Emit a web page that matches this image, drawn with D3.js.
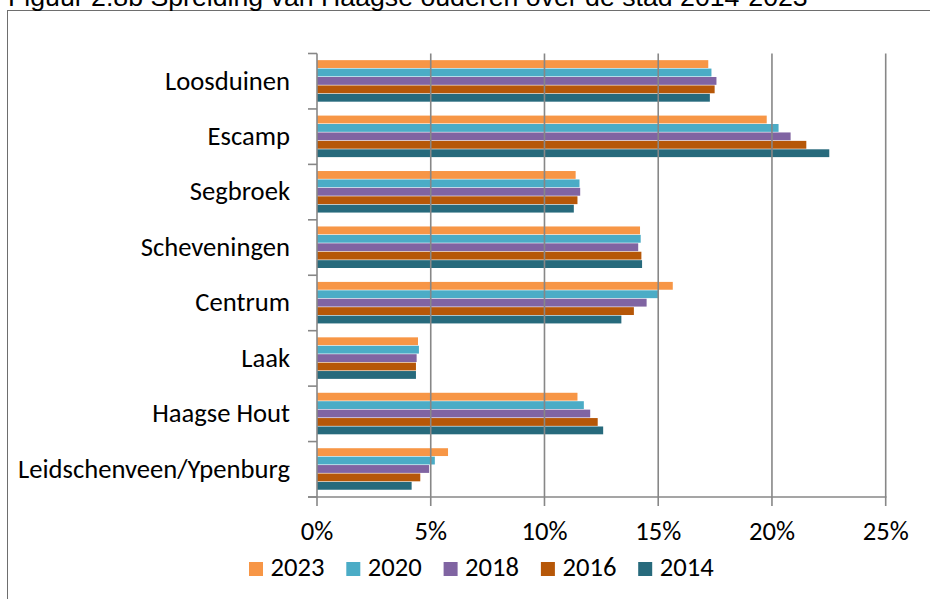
<!DOCTYPE html>
<html><head><meta charset="utf-8">
<script src="https://cdn.jsdelivr.net/npm/d3@7"></script>
<style>body{margin:0;background:#fff;} svg{display:block;}</style>
</head><body>
<svg id="c" width="930" height="599"></svg>
<script>
const title = "Figuur 2.8b  Spreiding van Haagse ouderen over de stad 2014-2023";
const categories = ["Loosduinen","Escamp","Segbroek","Scheveningen","Centrum","Laak","Haagse Hout","Leidschenveen/Ypenburg"];
const years = ["2023","2020","2018","2016","2014"];
const colors = ["#F79646","#4BACC6","#8064A2","#B65708","#276A7C"];
const v2023 = [17.20,19.77,11.37,14.20,15.64,4.44,11.45,5.76];
const v2020 = [17.34,20.29,11.54,14.23,15.03,4.48,11.73,5.18];
const v2018 = [17.56,20.82,11.57,14.12,14.49,4.38,12.01,4.93];
const v2016 = [17.48,21.51,11.45,14.26,13.93,4.35,12.34,4.54];
const v2014 = [17.27,22.52,11.29,14.29,13.38,4.35,12.58,4.16];
const tickValues = [0,5,10,15,20,25];
const tickLabels = ["0%","5%","10%","15%","20%","25%"];

const series = [v2023,v2020,v2018,v2016,v2014];
const svg = d3.select("#c");
const labelFont = "Carlito, Lato, 'Open Sans', sans-serif";

// frame
svg.append("rect").attr("x",7.5).attr("y",10.5).attr("width",1000).attr("height",1000)
  .attr("fill","none").attr("stroke","#6e6e6e").attr("stroke-width",1);

// title (clipped at top like the reference)
const t = svg.append("text").attr("x",8).attr("y",6)
  .attr("font-family","'Liberation Sans', Arial, sans-serif").attr("font-size",100)
  .attr("fill","#000").text(title);
const tw = t.node().getComputedTextLength();
t.attr("font-size", 100*800/tw);

const x = d3.scaleLinear().domain([0,25]).range([317,885.7]);
const y = d3.scaleBand().domain(categories).range([53.5,497]).padding(0);
const bw = y.bandwidth();
const ys = d3.scaleBand().domain(years).range([bw*0.12, bw*0.88]).padding(0);

// bars
const data = [];
categories.forEach((c,i)=>years.forEach((yr,j)=>data.push({c, yr, v: series[j][i], col: colors[j]})));
svg.append("g").selectAll("rect").data(data).join("rect")
  .attr("x", x(0))
  .attr("y", d=>y(d.c)+ys(d.yr))
  .attr("width", d=>x(d.v)-x(0))
  .attr("height", ys.bandwidth()-0.6)
  .attr("fill", d=>d.col);

const axisCol = "#878787";
// gridlines
svg.append("g").selectAll("line").data(tickValues.slice(1)).join("line")
  .attr("x1",d=>x(d)).attr("x2",d=>x(d)).attr("y1",53.5).attr("y2",506)
  .attr("stroke",axisCol).attr("stroke-width",1.6);
// x axis line
svg.append("line").attr("x1",308).attr("x2",x(25)+0.8).attr("y1",497).attr("y2",497)
  .attr("stroke",axisCol).attr("stroke-width",1.6);
// y axis line
svg.append("line").attr("x1",x(0)).attr("x2",x(0)).attr("y1",53.5).attr("y2",506)
  .attr("stroke",axisCol).attr("stroke-width",1.6);
// y ticks at band boundaries
const bounds = categories.map(c=>y(c)).concat([497]);
svg.append("g").selectAll("line").data(bounds).join("line")
  .attr("x1",308).attr("x2",x(0)).attr("y1",d=>d).attr("y2",d=>d)
  .attr("stroke",axisCol).attr("stroke-width",1.6);

// category labels
const cl = svg.append("g").selectAll("text").data(categories).join("text")
  .attr("x",290).attr("y",d=>y(d)+bw/2+8.3).attr("text-anchor","end")
  .attr("font-family",labelFont).attr("font-size",100).attr("fill","#000").text(d=>d);
const lw = cl.nodes()[7].getComputedTextLength();
const fs = 100*272/lw;
cl.attr("font-size",fs);

// x tick labels
svg.append("g").selectAll("text").data(tickValues).join("text")
  .attr("x",d=>x(d)).attr("y",540).attr("text-anchor","middle")
  .attr("font-family",labelFont).attr("font-size",fs).attr("fill","#000")
  .text((d,i)=>tickLabels[i]);

// legend
const lg = svg.append("g").selectAll("g").data(years).join("g")
  .attr("transform",(d,i)=>`translate(${249+i*97.3},0)`);
lg.append("rect").attr("x",0).attr("y",562).attr("width",14).attr("height",14)
  .attr("fill",(d,i)=>colors[i]);
lg.append("text").attr("x",21.5).attr("y",575.7)
  .attr("font-family",labelFont).attr("font-size",fs).attr("fill","#000").text(d=>d);
</script>
</body></html>
